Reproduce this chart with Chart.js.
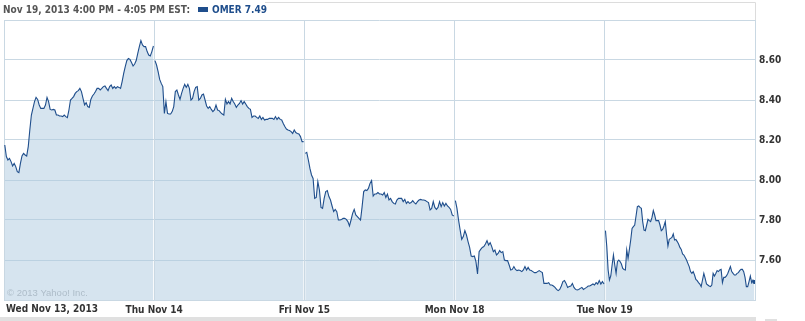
<!DOCTYPE html>
<html>
<head>
<meta charset="utf-8">
<script src="https://cdn.jsdelivr.net/npm/chart.js@4/dist/chart.umd.min.js"></script>
<style>
  body { margin: 0; background: #fff; }
  #wrap { position: relative; width: 805px; height: 321px; }
  #header { position: absolute; left: 3px; top: 4px; font: bold 10px 'DejaVu Sans Condensed', 'Liberation Sans Narrow', Arial, sans-serif; color: #555; white-space: nowrap; }
  #header .key { display: inline-block; width: 10px; height: 5px; background: #1f4e8c; margin: 0 4px 1px 8px; }
  #header .sym { color: #1f4e8c; }
</style>
</head>
<body>
<div id="wrap">
  <canvas id="chart" width="805" height="321"></canvas>
  <div id="header">Nov 19, 2013 4:00 PM - 4:05 PM EST:<span class="key"></span><span class="sym">OMER 7.49</span></div>
</div>
<script>
// day labels along the bottom
let dayLabels = ['Wed Nov 13, 2013', 'Thu Nov 14', 'Fri Nov 15', 'Mon Nov 18', 'Tue Nov 19'];

// 5 minute prices, one array per trading day
let wedPrices = [8.175, 8.117, 8.10, 8.108, 8.092, 8.07, 8.083, 8.067, 8.042, 8.037, 8.083, 8.12, 8.133, 8.125, 8.12, 8.167, 8.25, 8.325, 8.358, 8.392,
  8.413, 8.403, 8.375, 8.358, 8.358, 8.358, 8.375, 8.413, 8.392, 8.353, 8.35, 8.353, 8.35, 8.325, 8.325, 8.32, 8.32, 8.317, 8.325, 8.317,
  8.312, 8.35, 8.40, 8.408, 8.417, 8.433, 8.442, 8.447, 8.458, 8.442, 8.408, 8.375, 8.387, 8.367, 8.363, 8.403, 8.42, 8.43, 8.442, 8.458,
  8.458, 8.45, 8.458, 8.467, 8.47, 8.458, 8.447, 8.467, 8.475, 8.458, 8.467, 8.458, 8.467, 8.463, 8.458, 8.492, 8.533, 8.567, 8.597, 8.608,
  8.603, 8.587, 8.57, 8.58, 8.597, 8.633, 8.667, 8.697, 8.675, 8.667, 8.667, 8.642, 8.625, 8.62, 8.642, 8.67];
let thuPrices = [8.597, 8.575, 8.542, 8.503, 8.483, 8.467, 8.333, 8.392, 8.333, 8.33, 8.33, 8.342, 8.367, 8.442, 8.45, 8.425, 8.403, 8.433, 8.458, 8.478,
  8.463, 8.478, 8.458, 8.40, 8.408, 8.442, 8.463, 8.467, 8.40, 8.408, 8.425, 8.43, 8.40, 8.37, 8.358, 8.367, 8.353, 8.342, 8.35, 8.375,
  8.35, 8.347, 8.337, 8.33, 8.325, 8.403, 8.38, 8.392, 8.38, 8.408, 8.392, 8.38, 8.363, 8.375, 8.383, 8.397, 8.38, 8.392, 8.38, 8.367,
  8.358, 8.353, 8.313, 8.32, 8.32, 8.313, 8.308, 8.32, 8.303, 8.313, 8.30, 8.303, 8.303, 8.308, 8.308, 8.308, 8.303, 8.317, 8.303, 8.313,
  8.303, 8.30, 8.283, 8.267, 8.255, 8.25, 8.247, 8.242, 8.233, 8.25, 8.237, 8.233, 8.23, 8.217, 8.192, 8.192];
let friPrices = [8.133, 8.138, 8.10, 8.058, 8.025, 8.008, 7.908, 7.913, 7.992, 7.95, 7.863, 7.858, 7.908, 7.942, 7.947, 7.917, 7.90, 7.87, 7.842, 7.853,
  7.842, 7.80, 7.80, 7.803, 7.808, 7.808, 7.803, 7.792, 7.77, 7.80, 7.833, 7.853, 7.825, 7.817, 7.808, 7.80, 7.867, 7.942, 7.95, 7.947,
  7.958, 7.983, 7.997, 7.92, 7.93, 7.93, 7.937, 7.93, 7.93, 7.925, 7.937, 7.913, 7.93, 7.90, 7.908, 7.892, 7.883, 7.88, 7.90, 7.908,
  7.908, 7.908, 7.892, 7.903, 7.883, 7.892, 7.883, 7.887, 7.897, 7.887, 7.88, 7.892, 7.90, 7.903, 7.90, 7.90, 7.897, 7.892, 7.887, 7.85,
  7.858, 7.892, 7.863, 7.853, 7.863, 7.892, 7.867, 7.887, 7.87, 7.883, 7.87, 7.863, 7.853, 7.825, 7.82];
let monPrices = [7.897, 7.858, 7.80, 7.75, 7.703, 7.717, 7.747, 7.725, 7.692, 7.663, 7.62, 7.617, 7.62, 7.592, 7.53, 7.642, 7.653, 7.663, 7.667, 7.68,
  7.697, 7.675, 7.687, 7.667, 7.642, 7.65, 7.625, 7.633, 7.647, 7.637, 7.642, 7.60, 7.597, 7.597, 7.575, 7.55, 7.553, 7.567, 7.553, 7.547,
  7.55, 7.547, 7.542, 7.55, 7.567, 7.55, 7.563, 7.55, 7.547, 7.542, 7.537, 7.537, 7.542, 7.547, 7.542, 7.537, 7.483, 7.483, 7.483, 7.487,
  7.475, 7.475, 7.47, 7.463, 7.453, 7.447, 7.453, 7.47, 7.492, 7.497, 7.483, 7.463, 7.467, 7.47, 7.483, 7.463, 7.453, 7.45, 7.453, 7.458,
  7.463, 7.453, 7.458, 7.463, 7.47, 7.47, 7.475, 7.48, 7.475, 7.487, 7.48, 7.497, 7.48, 7.492, 7.48];
let tuePrices = [7.747, 7.667, 7.55, 7.50, 7.52, 7.575, 7.625, 7.575, 7.533, 7.592, 7.60, 7.592, 7.58, 7.558, 7.553, 7.55, 7.65, 7.608, 7.653, 7.70,
  7.758, 7.767, 7.775, 7.82, 7.867, 7.87, 7.863, 7.858, 7.792, 7.75, 7.747, 7.775, 7.803, 7.797, 7.792, 7.813, 7.847, 7.825, 7.797, 7.797,
  7.797, 7.775, 7.747, 7.753, 7.77, 7.792, 7.725, 7.67, 7.703, 7.708, 7.713, 7.73, 7.70, 7.703, 7.692, 7.68, 7.663, 7.653, 7.63, 7.625,
  7.613, 7.60, 7.583, 7.567, 7.542, 7.533, 7.542, 7.525, 7.503, 7.497, 7.487, 7.48, 7.467, 7.50, 7.533, 7.508, 7.48, 7.475, 7.47, 7.467,
  7.475, 7.533, 7.52, 7.533, 7.547, 7.542, 7.55, 7.553, 7.487, 7.513, 7.513, 7.52, 7.533, 7.55, 7.567, 7.542, 7.533, 7.525, 7.525, 7.533,
  7.537, 7.547, 7.553, 7.553, 7.542, 7.513, 7.467, 7.467, 7.492, 7.52, 7.487, 7.50, 7.49];

// price axis
let priceMin = 7.40;
let priceMax = 8.80;
let priceStep = 0.20;

let lineColor = '#1f4e8c';
let fillColor = 'rgba(173, 201, 223, 0.5)';
let gridColor = '#c9d8e3';
let labelFont = "'DejaVu Sans Condensed', 'Liberation Sans Narrow', Arial, sans-serif";

let allDays = [wedPrices, thuPrices, friPrices, monPrices, tuePrices];

// each day gets its own filled segment, spread over one unit of the x scale
let datasets = allDays.map(function (prices, day) {
  let last = prices.length - 1;
  return {
    data: prices.map(function (p, i) {
      return { x: day + (i + 0.5) / prices.length, y: p };
    }),
    borderColor: lineColor,
    backgroundColor: fillColor,
    borderWidth: 1.1,
    fill: 'start',
    tension: 0,
    pointRadius: function (ctx) {
      return (day === 4 && ctx.dataIndex === last) ? 2 : 0;
    },
    pointBackgroundColor: lineColor,
    pointBorderWidth: 0
  };
});

// extra bits of the yahoo frame: copyright, first day label, bottom bar
let framePlugin = {
  id: 'frame',
  afterDatasetsDraw(chart) {
    let ctx = chart.ctx;
    let area = chart.chartArea;
    ctx.save();
    ctx.fillStyle = '#aebdc9';
    ctx.font = '9.5px Arial, sans-serif';
    ctx.textBaseline = 'middle';
    ctx.fillText('\u00a9 2013 Yahoo! Inc.', area.left + 3, area.bottom - 7);
    ctx.restore();
  },
  afterDraw(chart) {
    let ctx = chart.ctx;
    let area = chart.chartArea;
    ctx.save();
    // first day label sits left aligned instead of centered
    ctx.fillStyle = '#333';
    ctx.font = 'bold 10px ' + labelFont;
    ctx.textBaseline = 'middle';
    ctx.textAlign = 'left';
    ctx.fillText(dayLabels[0], area.left + 2, area.bottom + 9);
    // frame above the plot, right of the header text
    ctx.strokeStyle = '#dcdcdc';
    ctx.lineWidth = 1;
    ctx.beginPath();
    ctx.moveTo(265, 2.5);
    ctx.lineTo(area.right + 0.5, 2.5);
    ctx.lineTo(area.right + 0.5, area.top);
    ctx.stroke();
    // grey bar under the axis labels
    ctx.fillStyle = '#e0e0e0';
    ctx.fillRect(0, 317, area.right + 1, 4);
    ctx.fillRect(765, 319, 12, 2);
    ctx.restore();
  }
};

let ctx = document.getElementById('chart').getContext('2d');
let chart = new Chart(ctx, {
  type: 'line',
  data: { datasets: datasets },
  plugins: [framePlugin],
  options: {
    responsive: false,
    animation: false,
    layout: { padding: { top: 20, left: 2, right: 0, bottom: 0 } },
    plugins: {
      legend: { display: false },
      tooltip: { enabled: false }
    },
    scales: {
      x: {
        type: 'linear',
        min: 0,
        max: dayLabels.length,
        afterFit: function (scale) { scale.height = 21; },
        grid: { color: gridColor, drawTicks: false },
        border: { color: gridColor },
        ticks: {
          stepSize: 1,
          autoSkip: false,
          maxRotation: 0,
          padding: 4,
          color: '#333',
          font: { family: labelFont, size: 10, weight: 'bold' },
          callback: function (value) {
            if (value === 0 || value >= dayLabels.length) return '';
            return dayLabels[value];
          }
        }
      },
      y: {
        position: 'right',
        min: priceMin,
        max: priceMax,
        afterFit: function (scale) { scale.width = 50; },
        grid: { color: gridColor, drawTicks: false },
        border: { color: gridColor },
        ticks: {
          stepSize: priceStep,
          padding: 4,
          color: '#333',
          font: { family: labelFont, size: 10, weight: 'bold' },
          callback: function (value) {
            if (value <= priceMin + 0.01 || value >= priceMax - 0.01) return '';
            return value.toFixed(2);
          }
        }
      }
    }
  }
});
</script>
</body>
</html>
